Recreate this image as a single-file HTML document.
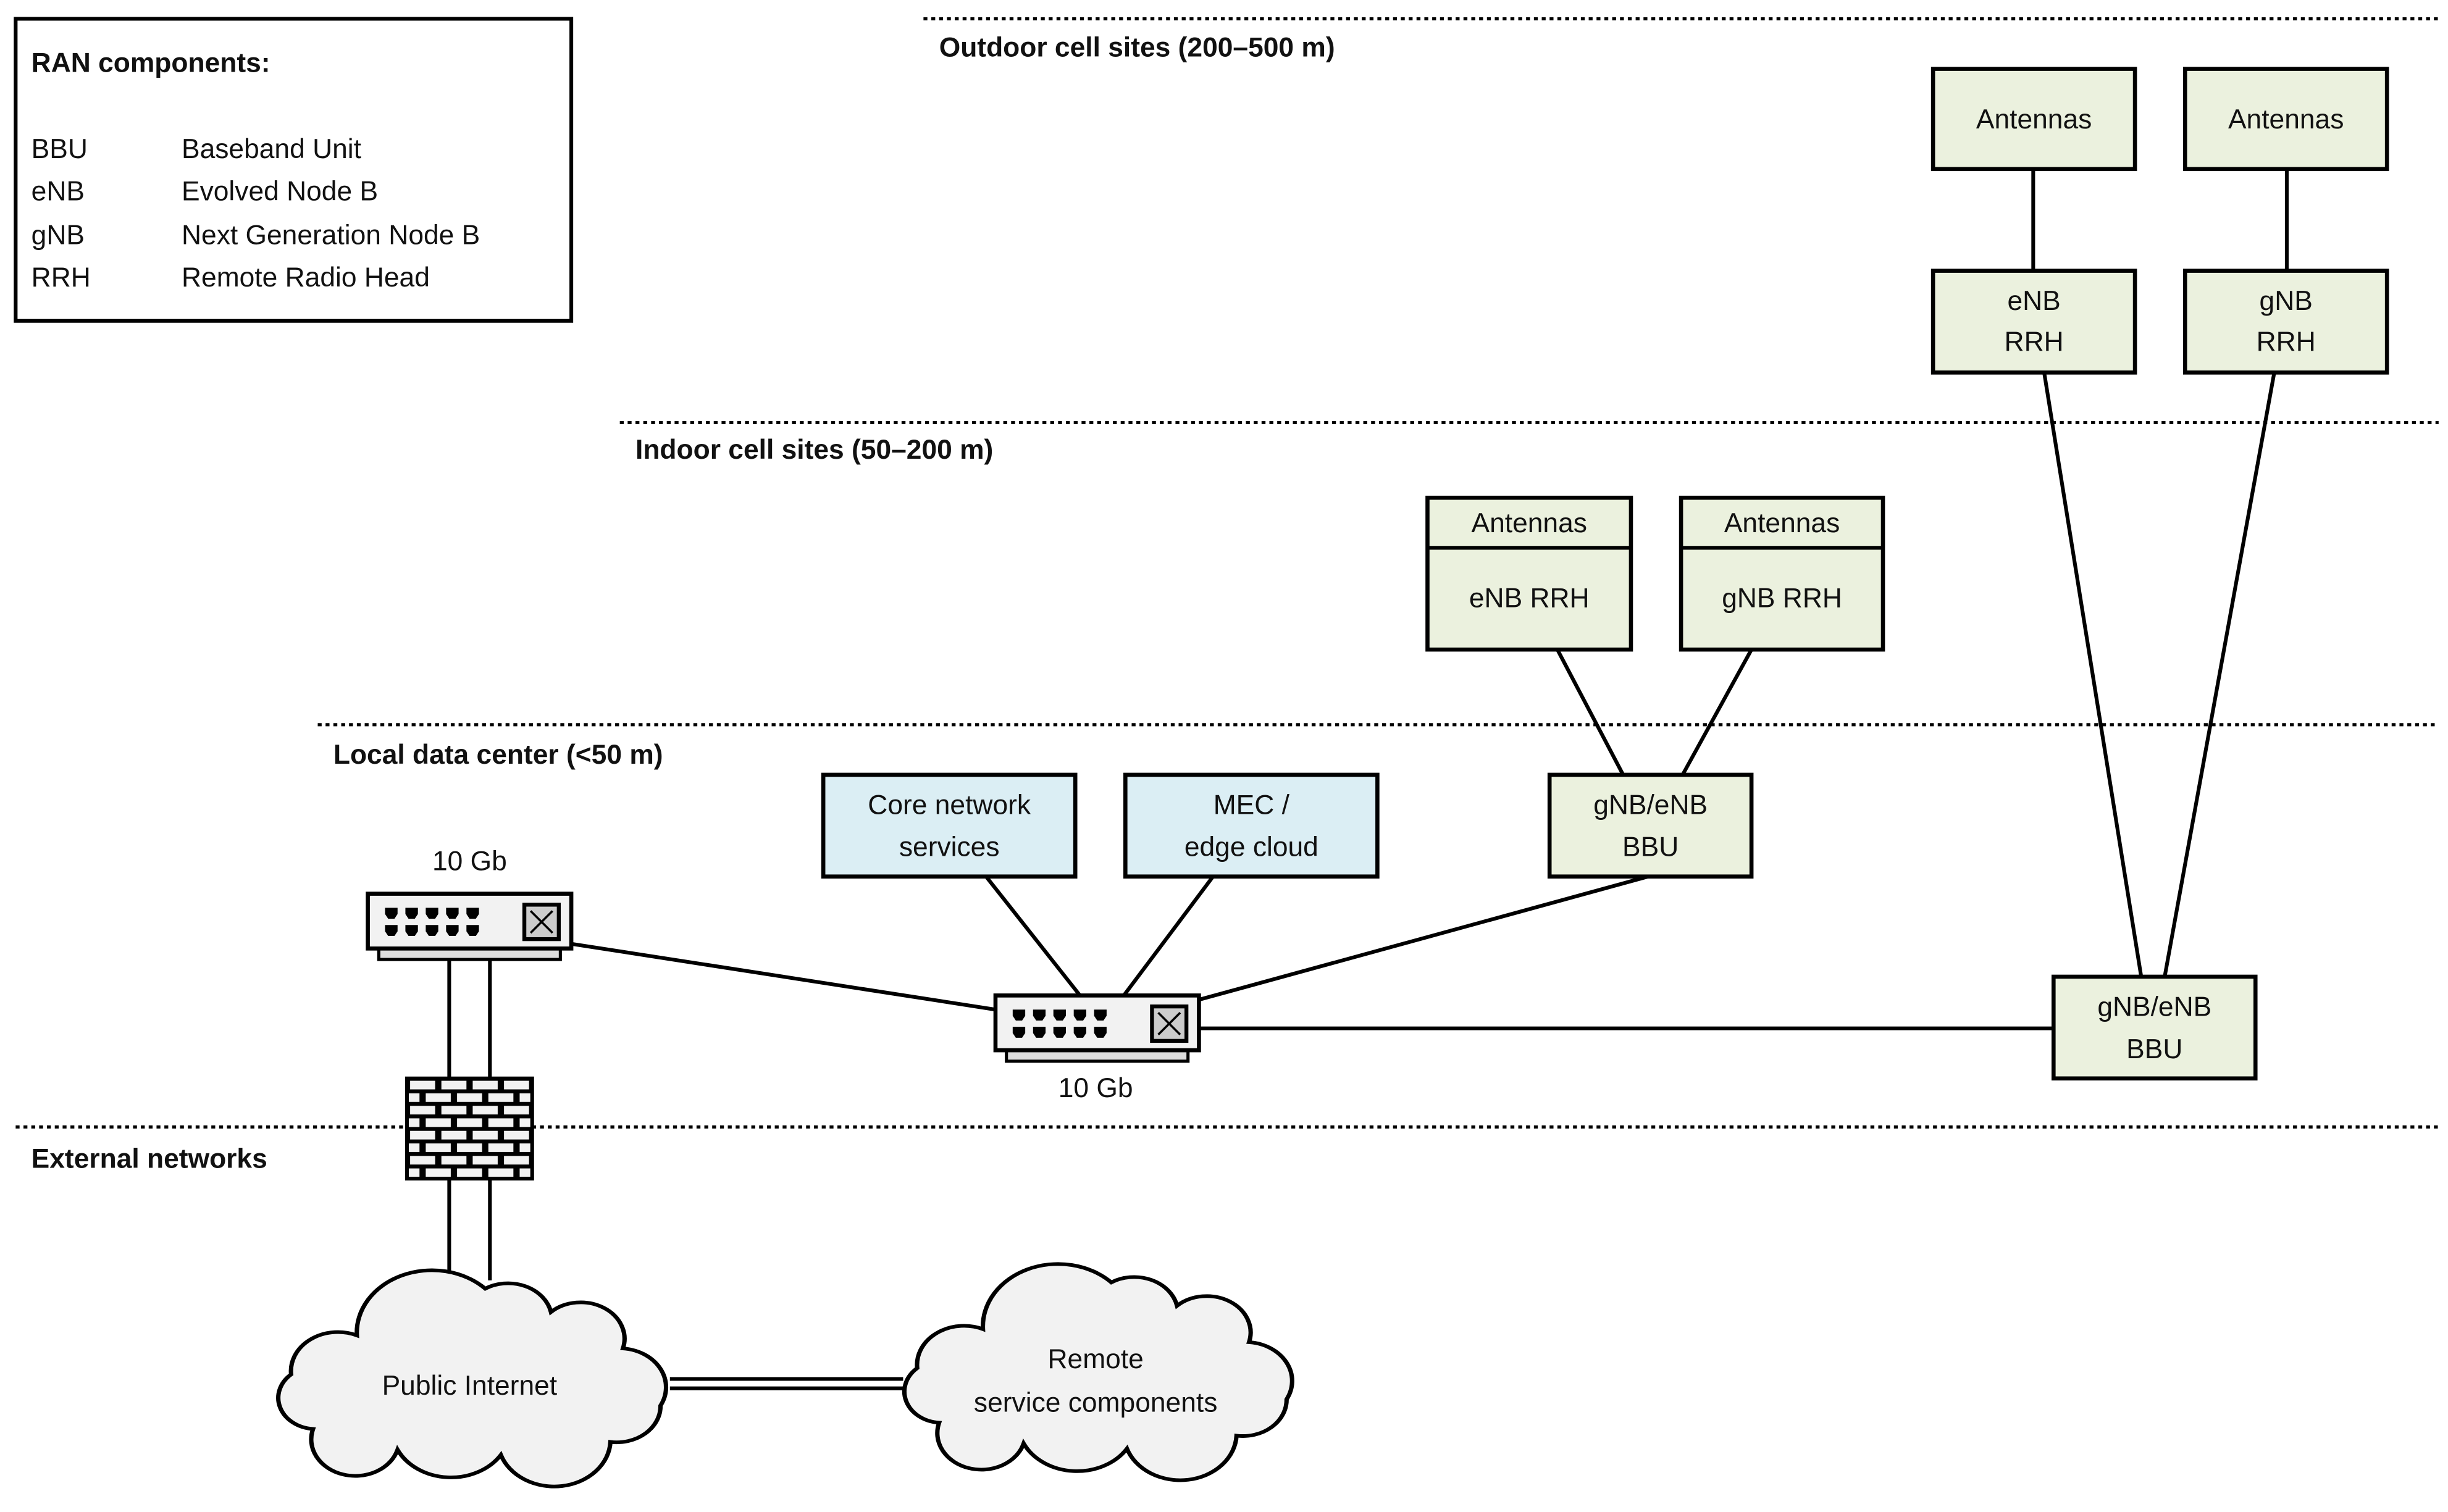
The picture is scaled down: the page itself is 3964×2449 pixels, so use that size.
<!DOCTYPE html>
<html><head><meta charset="utf-8"><style>
html,body{margin:0;padding:0;background:#fff;}
svg{display:block;}
text{font-family:"Liberation Sans",sans-serif;font-size:17.5px;fill:#111;}
.b{font-weight:bold;}
.box{stroke:#000;stroke-width:2.6;}
.g{fill:#ebf1de;}
.bl{fill:#dbeef4;}
.ln{stroke:#000;stroke-width:2.4;fill:none;}
.d{stroke:#000;stroke-width:2;stroke-dasharray:2.5 2.5;fill:none;}
.c{fill:#f2f2f2;stroke:#000;stroke-width:2.8;}
</style></head><body>
<svg width="3964" height="2449" viewBox="0 0 1564 966" preserveAspectRatio="none" xmlns="http://www.w3.org/2000/svg">
<defs>
<pattern id="brick" x="260" y="689" width="20" height="16" patternUnits="userSpaceOnUse">
<rect width="20" height="16" fill="#000"/>
<rect x="2" y="1.5" width="16" height="5.5" fill="#f2f2f2"/>
<rect x="-8" y="9.5" width="16" height="5.5" fill="#f2f2f2"/>
<rect x="12" y="9.5" width="16" height="5.5" fill="#f2f2f2"/>
</pattern>
<g id="sw">
<rect x="7" y="34" width="116" height="8" fill="#ddd" stroke="#000" stroke-width="2"/>
<rect x="0" y="0" width="130" height="35" fill="#f2f2f2" stroke="#000" stroke-width="2.6"/>
<g fill="#000">
<path d="M11 9h8v4l-2 3h-4l-2-3z"/><path d="M24 9h8v4l-2 3h-4l-2-3z"/><path d="M37 9h8v4l-2 3h-4l-2-3z"/><path d="M50 9h8v4l-2 3h-4l-2-3z"/><path d="M63 9h8v4l-2 3h-4l-2-3z"/>
<path d="M11 20h8v4l-2 3h-4l-2-3z"/><path d="M24 20h8v4l-2 3h-4l-2-3z"/><path d="M37 20h8v4l-2 3h-4l-2-3z"/><path d="M50 20h8v4l-2 3h-4l-2-3z"/><path d="M63 20h8v4l-2 3h-4l-2-3z"/>
</g>
<rect x="100" y="7" width="22" height="22" fill="#ccc" stroke="#000" stroke-width="2.5"/>
<path d="M104 11l14 14M118 11l-14 14" stroke="#000" stroke-width="1.4"/>
</g>
<path id="cloud" d="M30 118 A24 24 0 0 1 16 76 A30 30 0 0 1 58 46 A48 48 0 0 1 140 10 A28 28 0 0 1 182 28 A28 28 0 0 1 228 56 A30 30 0 0 1 252 100 A28 28 0 0 1 220 128 A36 36 0 0 1 150 138 A38 38 0 0 1 84 134 A28 28 0 0 1 30 118 Z"/>
</defs>

<rect x="10" y="12" width="355" height="193" fill="#fff" stroke="#000" stroke-width="2.4"/>
<text x="20" y="46" class="b">RAN components:</text>
<text x="20" y="101">BBU</text><text x="116" y="101">Baseband Unit</text>
<text x="20" y="128">eNB</text><text x="116" y="128">Evolved Node B</text>
<text x="20" y="156">gNB</text><text x="116" y="156">Next Generation Node B</text>
<text x="20" y="183">RRH</text><text x="116" y="183">Remote Radio Head</text>

<line class="d" x1="590" y1="12" x2="1558" y2="12"/>
<text x="600" y="36" class="b">Outdoor cell sites (200–500 m)</text>
<line class="d" x1="396" y1="270" x2="1558" y2="270"/>
<text x="406" y="293" class="b">Indoor cell sites (50–200 m)</text>
<line class="d" x1="203" y1="463" x2="1558" y2="463"/>
<text x="213" y="488" class="b">Local data center (&lt;50 m)</text>
<line class="d" x1="10" y1="720" x2="1558" y2="720"/>
<text x="20" y="746" class="b">External networks</text>

<line class="ln" x1="1299" y1="108" x2="1299" y2="173"/>
<line class="ln" x1="1461" y1="108" x2="1461" y2="173"/>
<line class="ln" x1="1306" y1="238" x2="1368" y2="624"/>
<line class="ln" x1="1453" y1="238" x2="1383" y2="624"/>
<line class="ln" x1="995" y1="415" x2="1037" y2="495"/>
<line class="ln" x1="1119" y1="415" x2="1075" y2="495"/>
<line class="ln" x1="365" y1="603" x2="636" y2="645"/>
<line class="ln" x1="630" y1="560" x2="690" y2="636"/>
<line class="ln" x1="775" y1="560" x2="718" y2="636"/>
<line class="ln" x1="1053" y1="560" x2="765" y2="639"/>
<line class="ln" x1="765" y1="657" x2="1312" y2="657"/>
<line class="ln" x1="287" y1="613" x2="287" y2="818"/>
<line class="ln" x1="313" y1="613" x2="313" y2="818"/>
<line class="ln" x1="428" y1="881" x2="577" y2="881"/>
<line class="ln" x1="428" y1="887" x2="577" y2="887"/>

<rect class="box g" x="1235" y="44" width="129" height="64"/><text x="1299.5" y="82" text-anchor="middle">Antennas</text>
<rect class="box g" x="1396" y="44" width="129" height="64"/><text x="1460.5" y="82" text-anchor="middle">Antennas</text>
<rect class="box g" x="1235" y="173" width="129" height="65"/><text x="1299.5" y="198" text-anchor="middle">eNB</text><text x="1299.5" y="224" text-anchor="middle">RRH</text>
<rect class="box g" x="1396" y="173" width="129" height="65"/><text x="1460.5" y="198" text-anchor="middle">gNB</text><text x="1460.5" y="224" text-anchor="middle">RRH</text>

<rect class="box g" x="912" y="318" width="130" height="97"/><line class="ln" x1="912" y1="350" x2="1042" y2="350"/>
<text x="977" y="340" text-anchor="middle">Antennas</text><text x="977" y="388" text-anchor="middle">eNB RRH</text>
<rect class="box g" x="1074" y="318" width="129" height="97"/><line class="ln" x1="1074" y1="350" x2="1203" y2="350"/>
<text x="1138.5" y="340" text-anchor="middle">Antennas</text><text x="1138.5" y="388" text-anchor="middle">gNB RRH</text>

<rect class="box bl" x="526" y="495" width="161" height="65"/><text x="606.5" y="520" text-anchor="middle">Core network</text><text x="606.5" y="547" text-anchor="middle">services</text>
<rect class="box bl" x="719" y="495" width="161" height="65"/><text x="799.5" y="520" text-anchor="middle">MEC /</text><text x="799.5" y="547" text-anchor="middle">edge cloud</text>
<rect class="box g" x="990" y="495" width="129" height="65"/><text x="1054.5" y="520" text-anchor="middle">gNB/eNB</text><text x="1054.5" y="547" text-anchor="middle">BBU</text>
<rect class="box g" x="1312" y="624" width="129" height="65"/><text x="1376.5" y="649" text-anchor="middle">gNB/eNB</text><text x="1376.5" y="676" text-anchor="middle">BBU</text>

<use href="#sw" x="235" y="571"/>
<text x="300" y="556" text-anchor="middle">10 Gb</text>
<use href="#sw" x="636" y="636"/>
<text x="700" y="701" text-anchor="middle">10 Gb</text>

<rect x="260" y="689" width="80" height="64" fill="url(#brick)" stroke="#000" stroke-width="2.4"/>

<g transform="translate(170,815) scale(1,0.83)"><use href="#cloud" class="c"/></g>
<text x="300" y="891" text-anchor="middle">Public Internet</text>
<g transform="translate(570,811) scale(1,0.83)"><use href="#cloud" class="c"/></g>
<text x="700" y="874" text-anchor="middle">Remote</text>
<text x="700" y="902" text-anchor="middle">service components</text>
</svg>
</body></html>
